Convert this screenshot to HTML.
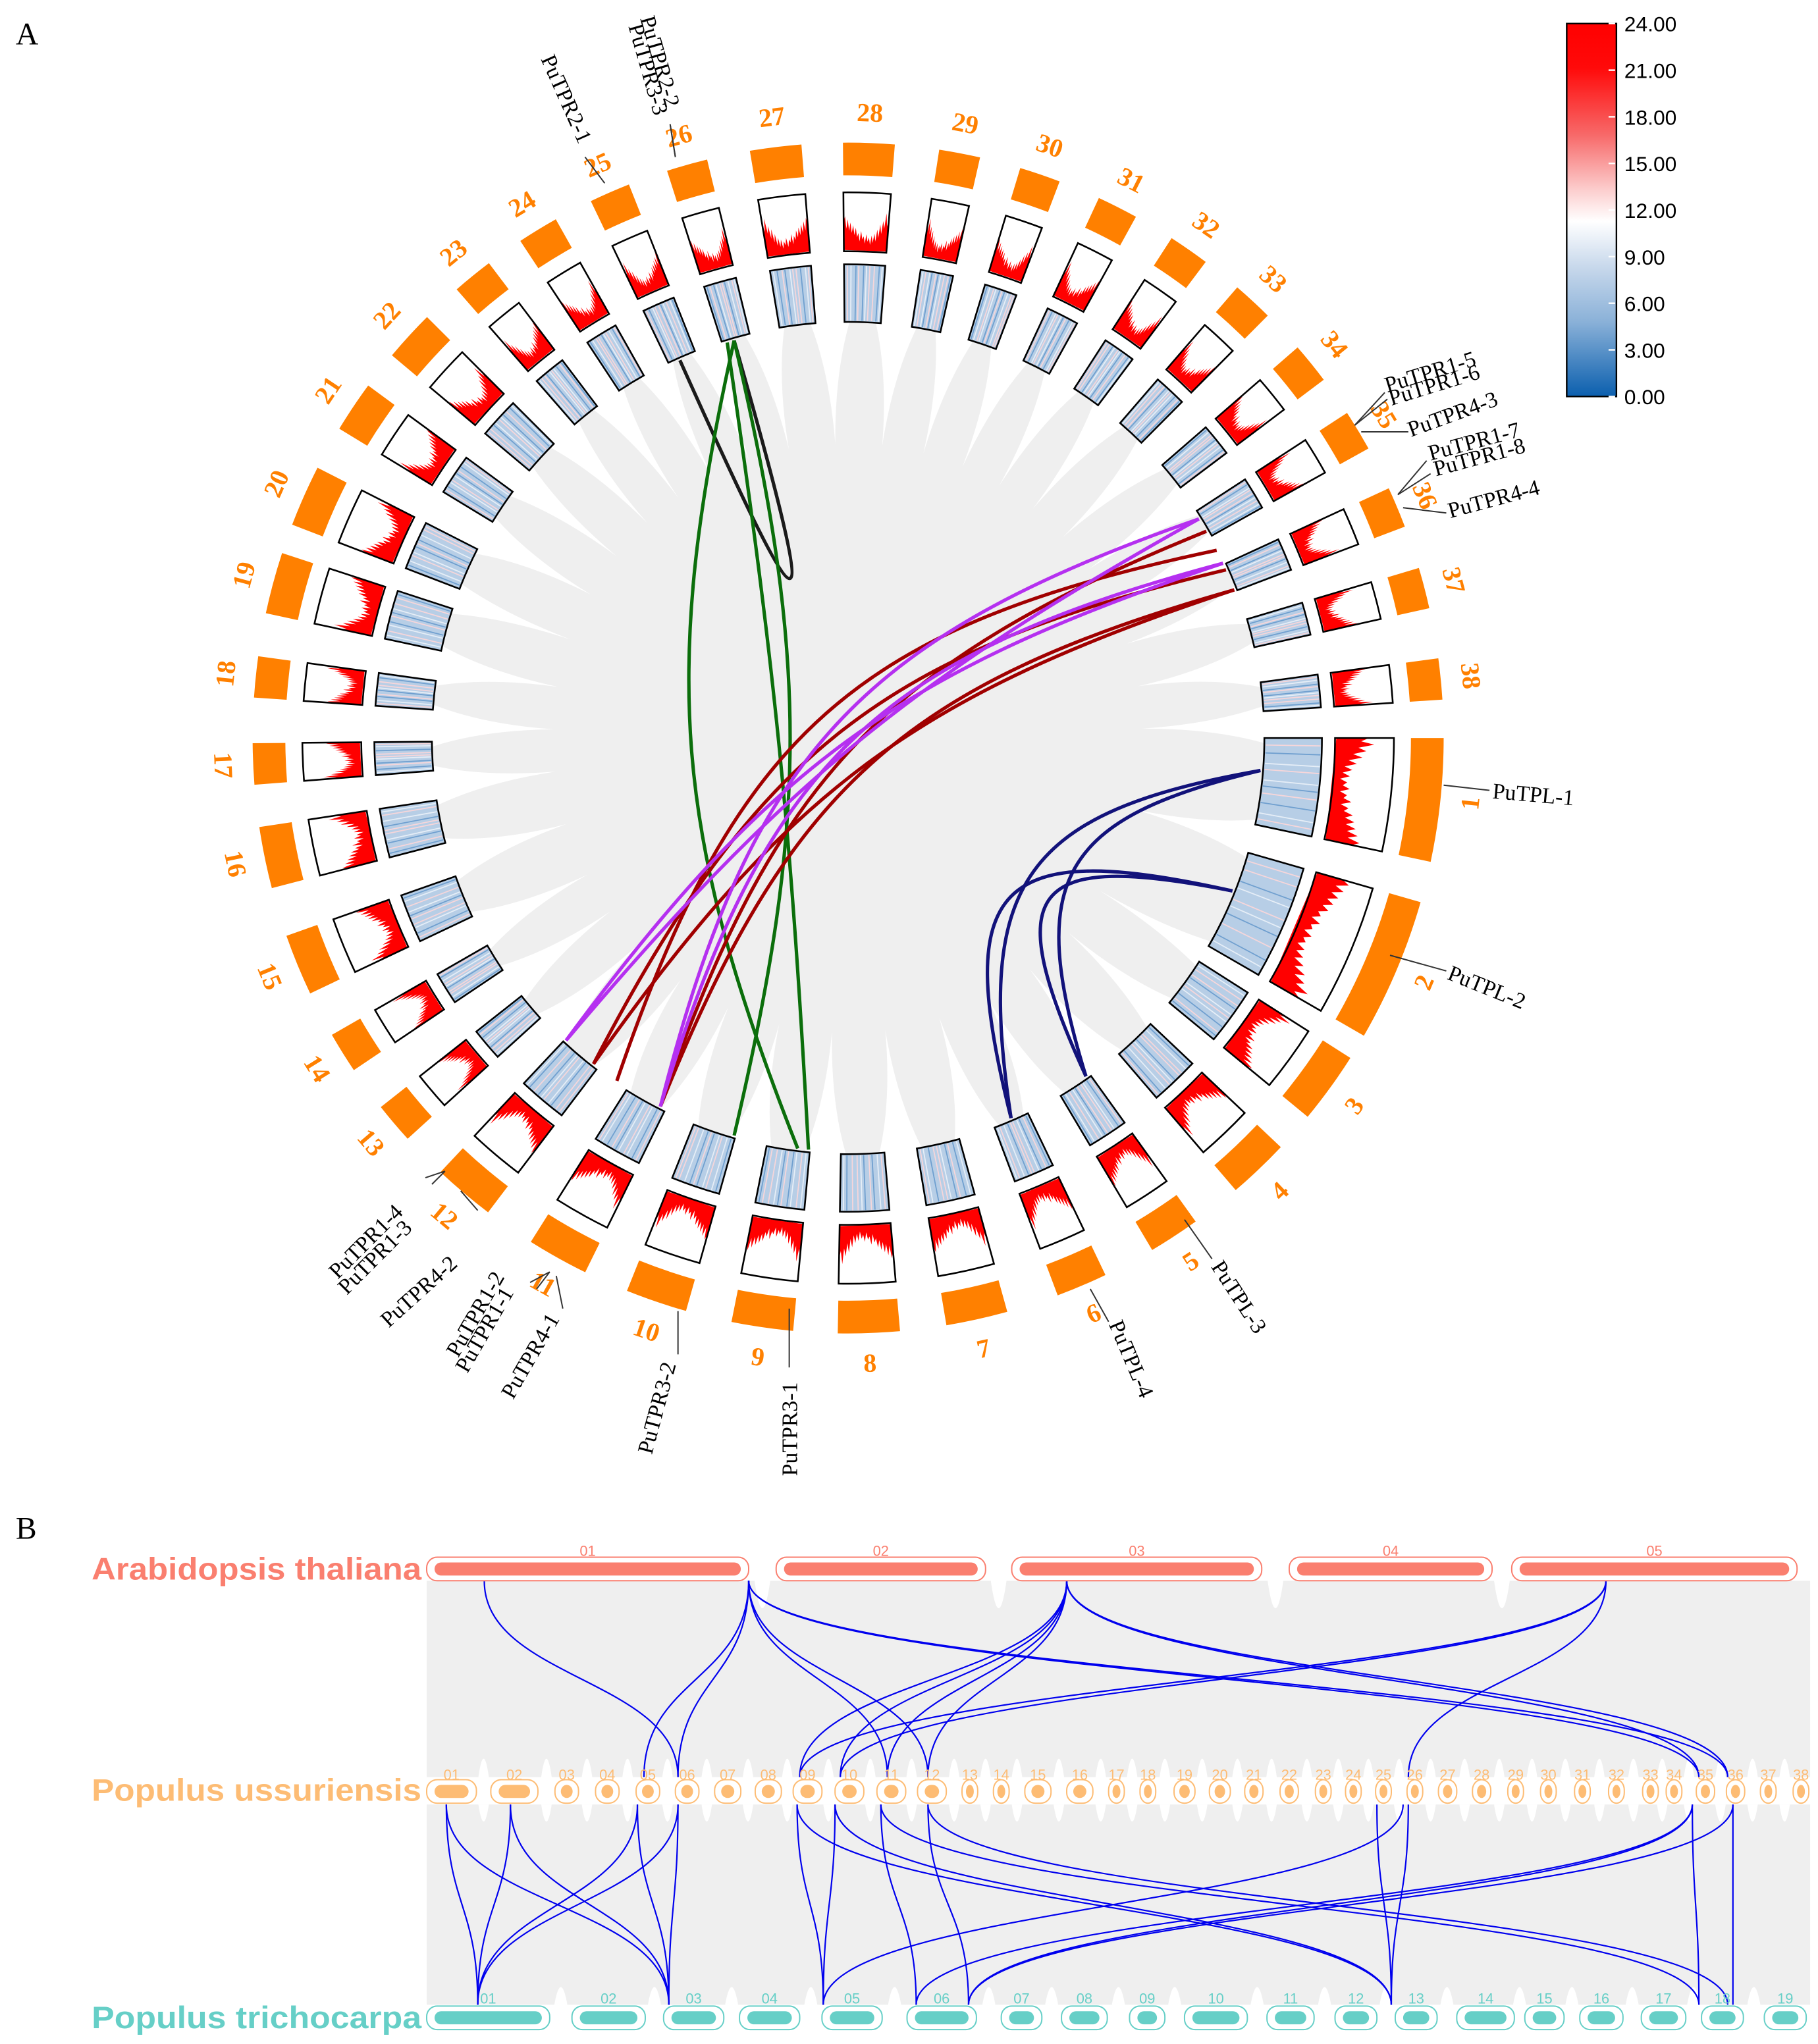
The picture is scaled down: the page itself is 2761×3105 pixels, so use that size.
<!DOCTYPE html>
<html><head><meta charset="utf-8"><style>
html,body{margin:0;padding:0;background:#fff;}
svg{display:block;}
</style></head><body>
<svg id="fig" xmlns="http://www.w3.org/2000/svg" width="2761" height="3105" viewBox="0 0 1389 1562" preserveAspectRatio="none">
<defs>
<linearGradient id="lg" x1="0" y1="0" x2="0" y2="1">
<stop offset="0" stop-color="#ff0000"/><stop offset="0.12" stop-color="#ff0a0a"/><stop offset="0.3" stop-color="#f76a6a"/><stop offset="0.45" stop-color="#fcd0d0"/><stop offset="0.53" stop-color="#ffffff"/><stop offset="0.65" stop-color="#c9d9ec"/><stop offset="0.8" stop-color="#8ab1d8"/><stop offset="1" stop-color="#0b5fae"/>
</linearGradient>
</defs>
<text x="12" y="34" font-family="Liberation Serif, serif" font-size="24">A</text>
<text x="12" y="1176" font-family="Liberation Serif, serif" font-size="24">B</text>
<g id="circos"></g>
<g id="legend">
<rect x="1197" y="18" width="38" height="285" fill="url(#lg)" stroke="#000" stroke-width="1.2"/>
</g>
<g id="synteny"></g>
</svg>
<script>
var NS='http://www.w3.org/2000/svg';
// ---- Circos data ----
var chrNames=['1','2','3','4','5','6','7','8','9','10','11','12','13','14','15','16','17','18','19','20','21','22','23','24','25','26','27','28','29','30','31','32','33','34','35','36','37','38'];
var chrCenters=[6,23,36,46.4,56.8,66.9,77.5,88,98.3,108.8,119.2,130.2,139.7,148.1,157.6,168.4,177.5,185.9,195.1,204,213.8,222.5,230.9,238.6,246.4,254.3,263,272,280.8,288.8,296.9,304.9,312.8,321,328.9,337.2,345.4,354.3];
var chrSpans=[12,14,7,6,5,5,6,6,6,6,6,6,4,4,6,6,4,4,6,6,5,5,4,4,4,4,5,5,4,4,4,4,4,4,4,4,4,4];
var densityProfile=[0.6,0.45,0.7,0.4,0.55,0.3,0.48,0.22,0.38,0.15,0.3,0.12,0.26,0.08,0.22,0.14,0.28,0.1,0.24,0.18,0.34,0.14,0.3,0.22,0.4,0.26,0.45,0.3,0.5,0.34,0.56,0.38,0.62,0.48];
var heatStripes=[0.08,0.17,0.29,0.36,0.48,0.55,0.63,0.74,0.86,0.93];
var legendTicks=['24.00','21.00','18.00','15.00','12.00','9.00','6.00','3.00','0.00'];
// links: [angleA, angleB, color, pull]
var linkA=[246,254,253,254,339,339,336,330,333,328,335,335,328,4.5,4.5,21.7,21.7];
var linkB=[254,106,95.5,97,128,117,128,117,124,133,133,117,117,54.9,66.8,54.9,66.8];
var linkColor=['#1a1a1a','#0b6e0b','#0b6e0b','#0b6e0b','#a00000','#a00000','#a00000','#a00000','#a00000','#b530f0','#b530f0','#b530f0','#b530f0','#12127a','#12127a','#12127a','#12127a'];
var linkPull=[0.02,0.05,0.15,0.5,0.05,0.1,0.2,0.15,0.3,0.05,0.12,0.2,0.25,0.45,0.35,0.4,0.3];
var genes=[['PuTPL-1',1140,610,5,1103,600,1138,604],['PuTPL-2',1105,748,22,1062,730,1105,742],['PuTPL-3',925,968,57,905,932,926,962],['PuTPL-4',847,1012,67,833,985,847,1010],
['PuTPR3-1',609,1128,-90,603,1000,603,1045],['PuTPR3-2',498,1112,-75,518,1002,518,1035],['PuTPR4-1',392,1070,-60,425,975,430,1000],['PuTPR1-1',357,1050,-60,420,972,410,985],['PuTPR1-2',350,1038,-60,420,972,405,980],
['PuTPR4-2',297,1015,-42,352,910,365,925],['PuTPR1-3',265,990,-45,340,895,330,905],['PuTPR1-4',258,978,-45,340,895,325,900],
['PuTPR2-1',413,45,66,447,120,462,140],['PuTPR2-2',489,14,74,512,95,516,120],['PuTPR3-3',480,20,74,512,95,516,120],
['PuTPR1-5',1060,300,-17,1035,325,1058,300],['PuTPR1-6',1063,310,-17,1035,325,1060,305],['PuTPR4-3',1078,334,-20,1040,330,1076,330],
['PuTPR1-7',1093,352,-15,1068,378,1090,352],['PuTPR1-8',1097,364,-15,1068,378,1093,362],['PuTPR4-4',1108,396,-15,1072,388,1105,392]];
var cx=648,cy=564;
function pol(r,a){var t=a*Math.PI/180;return [cx+r*Math.cos(t),cy+r*Math.sin(t)];}
function sector(a0,a1,r0,r1){var p1=pol(r1,a0),p2=pol(r1,a1),p3=pol(r0,a1),p4=pol(r0,a0);
return 'M'+p1+' A'+r1+','+r1+' 0 0 1 '+p2+' L'+p3+' A'+r0+','+r0+' 0 0 0 '+p4+' Z';}
function mk(tag,attrs,parent){var e=document.createElementNS(NS,tag);for(var k in attrs)e.setAttribute(k,attrs[k]);parent.appendChild(e);return e;}
var C=document.getElementById('circos');
var disk=mk('circle',{cx:cx,cy:cy,r:318,fill:'#efefef'},C);


for(var i=0;i<chrNames.length;i++){
  var a0=chrCenters[i]+chrSpans[i]/2, nx=(i+1)%chrNames.length, a1=chrCenters[nx]-chrSpans[nx]/2; if(a1<a0)a1+=360;
  var gm=(a0+a1)/2, w=(a1-a0);
  var b1=pol(320,gm-w/2-0.8),b2=pol(320,gm+w/2+0.8),ap=pol(225,gm),q1=pol(280,gm-w*0.1),q2=pol(280,gm+w*0.1);
  var wd=mk('path',{d:'M'+b1+' Q'+q1+' '+ap+' Q'+q2+' '+b2+' Z',fill:'#fff'},C);
  
  
}
for(var i=0;i<chrNames.length;i++){
  var a0=chrCenters[i]-chrSpans[i]/2,a1=chrCenters[i]+chrSpans[i]/2;
  var bar=mk('path',{d:sector(a0,a1,430,455),fill:'#ff8000'},C);
  
  
  var lp=pol(478,chrCenters[i]);
  var rot=(chrCenters[i]<180)?chrCenters[i]-90:chrCenters[i]+90;
  var t=mk('text',{x:lp[0],y:lp[1],'font-family':'Liberation Serif, serif','font-size':'20','font-weight':'bold',fill:'#ff8000','text-anchor':'middle','dominant-baseline':'central',transform:'rotate('+rot+' '+lp[0]+' '+lp[1]+')'},C);
  t.textContent=chrNames[i];
  
  
  var hm=mk('path',{d:sector(a0,a1,318,362),fill:'#b7cee6'},C);
  
  
  for(var s=0;s<heatStripes.length;s++){
    var aa=a0+(a1-a0)*heatStripes[(s+i)%heatStripes.length];
    var pA=pol(319,aa),pB=pol(361,aa);
    var ln=mk('line',{x1:pA[0],y1:pA[1],x2:pB[0],y2:pB[1],stroke:(s%3==0?'#f6d6da':(s%2?'#6f9fcf':'#e6eef7')),'stroke-width':'0.9'},C);
    
    
  }
  var hb=mk('path',{d:sector(a0,a1,318,362),fill:'none',stroke:'#000','stroke-width':'1.3'},C);
  
  
  var n=densityProfile.length, pts=[];
  for(var k=0;k<n;k++){var a=a0+(a1-a0)*k/(n-1);var v=densityProfile[(i%2?n-1-k:k)];pts.push(pol(374+v*40,a));}
  var d='M'+pol(373,a0);for(var k=0;k<n;k++)d+=' L'+pts[k];d+=' L'+pol(373,a1)+' Z';
  var rp=mk('path',{d:d,fill:'#ff0000'},C);
  
  
  var rb=mk('path',{d:sector(a0,a1,372,417),fill:'none',stroke:'#000','stroke-width':'1.3'},C);
  
  
}
for(var j=0;j<linkA.length;j++){
  var pA=pol(316,linkA[j]),pB=pol(316,linkB[j]);
  var m=(linkA[j]+linkB[j])/2; var c1=pol(316*linkPull[j],m);
  var c1a=[(pA[0]+c1[0])/2*0.4+c1[0]*0.6,(pA[1]+c1[1])/2*0.4+c1[1]*0.6],c1b=[(pB[0]+c1[0])/2*0.4+c1[0]*0.6,(pB[1]+c1[1])/2*0.4+c1[1]*0.6];
  var lk=mk('path',{d:'M'+pA+' C'+c1a+' '+c1b+' '+pB,fill:'none',stroke:linkColor[j],'stroke-width':'2.6'},C);
  
  
}
for(var g=0;g<genes.length;g++){
  var G=genes[g];
  var gl=mk('line',{x1:G[4],y1:G[5],x2:G[6],y2:G[7],stroke:'#333','stroke-width':'1'},C);
  
  
  var gt=mk('text',{x:G[1],y:G[2],'font-family':'Liberation Serif, serif','font-size':'17',fill:'#000',transform:'rotate('+G[3]+' '+G[1]+' '+G[2]+')'},C);
  gt.textContent=G[0];
  
  
}
var L=document.getElementById('legend');
for(var i=0;i<legendTicks.length;i++){
  var y=18+285*i/(legendTicks.length-1);
  var tk=mk('line',{x1:1229,y1:y,x2:1234,y2:y,stroke:'#fff','stroke-width':'1.2'},L);
  
  
  var tt=mk('text',{x:1241,y:y+6,'font-family':'Liberation Sans, sans-serif','font-size':'16',fill:'#000'},L);
  tt.textContent=legendTicks[i];
  
  
}
// ---- Synteny panel ----
var atNames=['01','02','03','04','05'];
var atStart=[326,593,773,985,1155];
var atEnd=[572,753,964,1140,1373];
var puCenters=[345,393,433,464,495,525,556,587,617,649,681,712,741,765,793,825,853,877,905,932,958,985,1011,1034,1057,1081,1106,1132,1158,1183,1209,1235,1261,1279,1303,1326,1351,1376];
var puWidths=[38,36,18,18,18,18,20,20,22,22,22,22,12,12,20,20,12,12,16,16,14,14,12,12,12,12,14,14,12,12,12,12,12,12,14,14,12,12];
var ptStart=[326,437,507,565,628,693,765,811,863,905,968,1020,1066,1113,1165,1207,1254,1300,1348];
var ptEnd=[420,493,553,611,674,746,796,846,890,953,1004,1052,1098,1157,1195,1240,1288,1332,1380];
var upTop=[370,572,572,572,572,572,572,815,815,815,815,815,815,1227,1227,1227];
var upBot=[518,492,518,678,709,1298,1320,611,642,678,709,1298,1320,611,642,1076];
var lowTop=[341,341,390,390,487,487,518,518,609,609,638,638,673,673,709,709,1072,1052,1076,1293,1293,1293,1324,1324];
var lowBot=[365,511,365,511,365,511,365,511,629,1063,629,1063,700,1298,740,1320,629,1063,1063,700,740,1298,740,1324];
var S=document.getElementById('synteny');
var bg1=mk('rect',{x:326,y:1208,width:1057,height:150,fill:'#efefef'},S);


var bg2=mk('rect',{x:326,y:1379,width:1057,height:153,fill:'#efefef'},S);


for(var i=0;i<puCenters.length-1;i++){
  var gx=(puCenters[i]+puWidths[i]/2+puCenters[i+1]-puWidths[i+1]/2)/2;
  var n1=mk('path',{d:'M'+(gx-4)+',1358 Q'+gx+',1330 '+(gx+4)+',1358 Z',fill:'#fff'},S);
  
  
  var n2=mk('path',{d:'M'+(gx-4)+',1379 Q'+gx+',1405 '+(gx+4)+',1379 Z',fill:'#fff'},S);
  
  
}
for(var i=0;i<ptStart.length-1;i++){
  var gx=(ptEnd[i]+ptStart[i+1])/2;
  var n3=mk('path',{d:'M'+(gx-5)+',1532 Q'+gx+',1505 '+(gx+5)+',1532 Z',fill:'#fff'},S);
  
  
}
for(var i=0;i<atStart.length-1;i++){
  var gx=(atEnd[i]+atStart[i+1])/2;
  var n4=mk('path',{d:'M'+(gx-6)+',1208 Q'+gx+',1250 '+(gx+6)+',1208 Z',fill:'#fff'},S);
  
  
}
function vlink(x1,y1,x2,y2){var my=(y1+y2)/2;return 'M'+x1+','+y1+' C'+x1+','+my+' '+x2+','+my+' '+x2+','+y2;}
for(var j=0;j<upTop.length;j++){
  var ul=mk('path',{d:vlink(upTop[j],1208,upBot[j],1358),fill:'none',stroke:'#0000ee','stroke-width':'1.1'},S);
  
  
}
for(var j=0;j<lowTop.length;j++){
  var ll=mk('path',{d:vlink(lowTop[j],1379,lowBot[j],1532),fill:'none',stroke:'#0000ee','stroke-width':'1.1'},S);
  
  
}
function chrom(x,w,y,col,lbl,name,ly){
  var o=mk('rect',{x:x,y:y,width:w,height:18,rx:8,fill:'#fff',stroke:col,'stroke-width':'1'},S);
  
  
  var ins=Math.min(6,w/4);
  var b=mk('rect',{x:x+ins,y:y+4,width:w-2*ins,height:10,rx:5,fill:col},S);
  
  
  var t=mk('text',{x:x+w/2,y:ly,'font-family':'Liberation Sans, sans-serif','font-size':'11',fill:col,'text-anchor':'middle'},S);
  t.textContent=lbl;
  
  
}
for(var i=0;i<atNames.length;i++)chrom(atStart[i],atEnd[i]-atStart[i],1190,'#fa7f6f',atNames[i],'at-chromosome-'+atNames[i],1189);
for(var i=0;i<puCenters.length;i++)chrom(puCenters[i]-puWidths[i]/2,puWidths[i],1360,'#fdbc74',chrNames[i].length<2?'0'+chrNames[i]:chrNames[i],'pu-chromosome-'+(i+1),1360);
for(var i=0;i<ptStart.length;i++){var nm=(i<9?'0':'')+(i+1);chrom(ptStart[i],ptEnd[i]-ptStart[i],1533,'#66cfc7',nm,'pt-chromosome-'+nm,1531);}
var sp=[['Arabidopsis thaliana','#fa7f6f',1207],['Populus ussuriensis','#fdbc74',1376],['Populus trichocarpa','#66cfc7',1550]];
for(var i=0;i<sp.length;i++){
  var st=mk('text',{x:322,y:sp[i][2],'font-family':'Liberation Sans, sans-serif','font-size':'24','font-weight':'bold',fill:sp[i][1],'text-anchor':'end',textLength:'252',lengthAdjust:'spacingAndGlyphs'},S);
  st.textContent=sp[i][0];
  
  
}
</script>
</body></html>
